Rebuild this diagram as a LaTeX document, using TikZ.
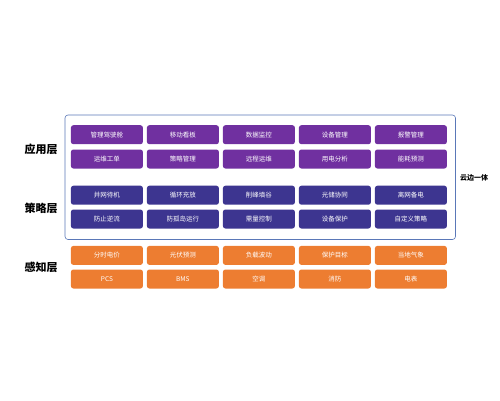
\documentclass[tikz,border=0pt]{standalone}
\usepackage{fontspec}
\setmainfont{Noto Sans CJK SC}
\newfontfamily\cjkbold{Noto Sans CJK SC}[FakeBold=0]
\definecolor{apppurple}{HTML}{7030A0}
\definecolor{stratblue}{HTML}{3D3590}
\definecolor{senseorange}{HTML}{ED7D31}
\definecolor{framecol}{HTML}{5A78B8}
\tikzset{
  btn/.style={rounded corners=2.5pt, minimum width=72pt, minimum height=19pt,
    inner sep=0pt, text=white, font=\fontsize{6.5}{7}\selectfont, anchor=north west},
  appbtn/.style={btn, fill=apppurple},
  stratbtn/.style={btn, fill=stratblue},
  sensebtn/.style={btn, fill=senseorange},
  layerlabel/.style={font=\fontsize{11}{12}\selectfont\bfseries, text=black},
  sidelabel/.style={font=\fontsize{7}{8}\selectfont\bfseries, text=black}
}
\begin{document}
\begin{tikzpicture}[x=1pt,y=-1pt]
\useasboundingbox (0,0) rectangle (500,400);
\node[draw=framecol, line width=0.6pt, fill=white, rounded corners=3pt, minimum width=390.5pt, minimum height=124.5pt, anchor=north west, inner sep=0pt] (frame) at (64.7,114.7) {};
\foreach \t [count=\i from 0] in {管理驾驶舱,移动看板,数据监控,设备管理,报警管理}
  \node[appbtn] (a1\i) at ({70.7+76*\i},125) {\t};
\foreach \t [count=\i from 0] in {运维工单,策略管理,远程运维,用电分析,能耗预测}
  \node[appbtn] (a2\i) at ({70.7+76*\i},149.3) {\t};
\foreach \t [count=\i from 0] in {并网待机,循环充放,削峰填谷,光储协同,离网备电}
  \node[stratbtn] (s1\i) at ({70.7+76*\i},185.5) {\t};
\foreach \t [count=\i from 0] in {防止逆流,防孤岛运行,需量控制,设备保护,自定义策略}
  \node[stratbtn] (s2\i) at ({70.7+76*\i},209.3) {\t};
\foreach \t [count=\i from 0] in {分时电价,光伏预测,负载波动,保护目标,当地气象}
  \node[sensebtn] (p1\i) at ({70.7+76*\i},245.7) {\t};
\foreach \t [count=\i from 0] in {PCS,BMS,空调,消防,电表}
  \node[sensebtn] (p2\i) at ({70.7+76*\i},269.3) {\t};
\node[layerlabel] (l1) at (41,149) {应用层};
\node[layerlabel] (l2) at (41,208) {策略层};
\node[layerlabel] (l3) at (41,267) {感知层};
\node[sidelabel] (side) at (474,178) {云边一体};
\end{tikzpicture}
\end{document}
